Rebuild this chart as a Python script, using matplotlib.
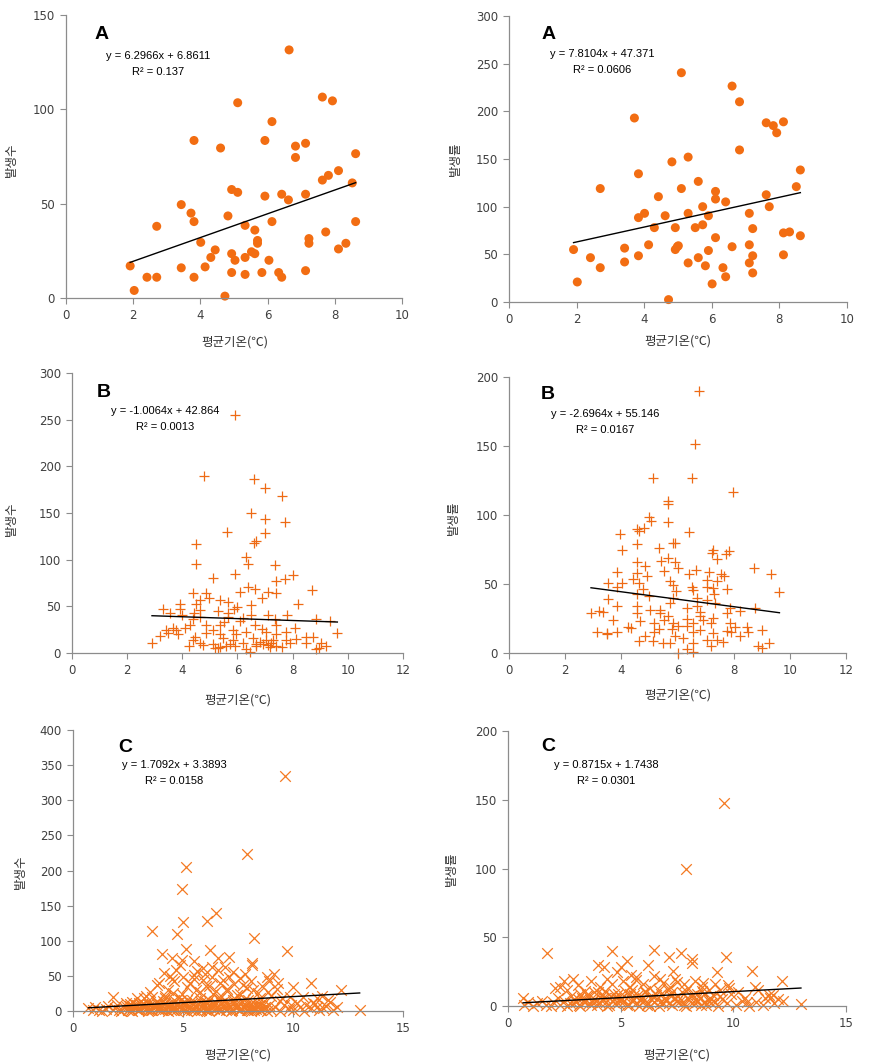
import numpy as np
import matplotlib.pyplot as plt

plt.rcParams['font.family'] = ['DejaVu Sans', 'Noto Sans CJK KR']

# panel A : 발생수 / 발생률 vs 평균기온
a_cnt = [(1.91, 17), (2.03, 4), (2.41, 11), (2.70, 11), (2.70, 38), (3.43, 49.5), (3.43, 16),
         (3.72, 45), (3.81, 83.5), (3.81, 40.5), (3.81, 11), (4.01, 29.5), (4.14, 16.5),
         (4.31, 21.5), (4.44, 25.5), (4.60, 79.5), (4.73, 1), (4.82, 43.5), (4.93, 57.5),
         (4.93, 23.5), (4.93, 13.5), (5.03, 20), (5.11, 56), (5.11, 103.5), (5.33, 38.5),
         (5.33, 21.5), (5.33, 12.5), (5.52, 24.5), (5.62, 23.5), (5.62, 36), (5.70, 30.5),
         (5.70, 29), (5.83, 13.5), (5.92, 54), (5.92, 83.5), (6.04, 20), (6.13, 93.5),
         (6.13, 40.5), (6.33, 13.5), (6.42, 55), (6.42, 11), (6.62, 52), (6.64, 131.5),
         (6.83, 80.5), (6.83, 74.5), (7.13, 55), (7.13, 14.5), (7.13, 82), (7.23, 31.5),
         (7.23, 29), (7.63, 106.5), (7.63, 62.5), (7.73, 35), (7.81, 65), (7.93, 104.5),
         (8.11, 67.5), (8.11, 26), (8.33, 29), (8.52, 61), (8.62, 76.5), (8.62, 40.5)]
a_rate = [(1.91, 55), (2.02, 21), (2.41, 46.5), (2.70, 36), (2.70, 119), (3.42, 56.5),
          (3.42, 42), (3.71, 193), (3.83, 48.5), (3.83, 134.5), (3.83, 88.5), (4.01, 93),
          (4.13, 60), (4.30, 78), (4.42, 110.5), (4.62, 90.5), (4.72, 2.5), (4.82, 147),
          (4.92, 78), (4.92, 55), (4.98, 58), (5.01, 59), (5.10, 240.5), (5.10, 119),
          (5.30, 152), (5.30, 93), (5.30, 41), (5.51, 78), (5.60, 126.5), (5.60, 46.5),
          (5.73, 100), (5.73, 81), (5.81, 38), (5.90, 54), (5.90, 90.5), (6.01, 19),
          (6.11, 116), (6.11, 108), (6.11, 67.5), (6.33, 36), (6.41, 105), (6.41, 26.5),
          (6.60, 226.5), (6.60, 58), (6.82, 210), (6.82, 159.5), (7.11, 93), (7.11, 60),
          (7.11, 41), (7.21, 77), (7.21, 48.5), (7.21, 30.5), (7.61, 188), (7.61, 112.5),
          (7.70, 100), (7.82, 185), (7.92, 177.5), (8.12, 189), (8.12, 72.5), (8.12, 49.5),
          (8.30, 73.5), (8.50, 121), (8.62, 138.5), (8.62, 69.5)]

# panel B
b_cnt = [(5.91, 255), (4.79, 190), (6.59, 186), (7.0, 177), (7.63, 168), (6.5, 150),
         (7.0, 144), (7.71, 140), (5.62, 130), (7.0, 129), (6.66, 120), (6.59, 118),
         (4.5, 117), (6.32, 103), (6.38, 95), (4.5, 95), (7.35, 94), (5.91, 85), (8.01, 84),
         (5.12, 80), (7.71, 79), (7.41, 77), (6.37, 71), (6.63, 69), (8.71, 68), (6.08, 65),
         (7.11, 65), (7.41, 64), (4.39, 64), (4.87, 64), (4.97, 59), (6.88, 59), (4.63, 57),
         (5.38, 57), (5.67, 55), (8.19, 53), (3.92, 52), (4.5, 52), (6.5, 51), (5.98, 49),
         (5.87, 47), (3.3, 47), (3.92, 47), (4.63, 46), (5.29, 45), (3.54, 43), (4.43, 43),
         (5.67, 43), (4.0, 41), (6.5, 41), (7.11, 41), (7.79, 41), (5.67, 39), (4.63, 39),
         (8.83, 36), (7.36, 36), (4.39, 36), (6.08, 34), (9.34, 34), (4.27, 30), (4.87, 30),
         (5.35, 30), (6.63, 30), (7.41, 30), (8.07, 27), (3.66, 27), (3.78, 25), (3.42, 25),
         (5.11, 25), (5.84, 25), (6.32, 23), (7.04, 23), (7.77, 22), (9.62, 21), (3.48, 21),
         (3.84, 20), (4.87, 21), (5.35, 20), (5.96, 20), (7.41, 20), (3.18, 18), (4.45, 17),
         (5.47, 16), (6.56, 16), (8.5, 17), (8.74, 17), (8.11, 15), (4.39, 14), (5.84, 14),
         (7.04, 14), (7.77, 14), (2.9, 11), (4.63, 11), (5.11, 10), (5.72, 10), (6.2, 11),
         (6.68, 10), (6.92, 10), (7.23, 11), (7.89, 11), (8.5, 11), (9.04, 11), (4.23, 8),
         (4.75, 9), (5.6, 8), (6.68, 8), (7.41, 8), (9.22, 8), (5.17, 5), (5.29, 5),
         (7.17, 6), (6.32, 4), (8.83, 4), (8.97, 5), (6.44, 1), (5.35, 6), (6.8, 12),
         (7.3, 14), (7.1, 9), (6.9, 26), (5.5, 33), (6.2, 38), (4.1, 27), (5.9, 8), (7.6, 6)]
b_rate = [(6.77, 189.5), (6.64, 151.5), (5.14, 127), (6.52, 126.5), (7.99, 116.5),
          (5.65, 110.5), (5.65, 108), (4.99, 98.5), (5.04, 96), (5.65, 95), (4.55, 90),
          (4.63, 88.5), (4.82, 90.5), (6.42, 88), (3.95, 86), (5.83, 79.5), (5.92, 80),
          (4.55, 79), (5.34, 76), (4.02, 75), (7.28, 75), (7.82, 74), (7.22, 72.5),
          (7.73, 71.5), (7.42, 68), (5.66, 68.5), (5.41, 66.5), (5.92, 66), (4.55, 66),
          (4.83, 63), (6.0, 61.5), (8.72, 61.5), (6.66, 60.5), (5.52, 59.5), (3.83, 58.5),
          (7.13, 58.5), (4.55, 58), (6.42, 57), (7.56, 57), (7.66, 56), (9.33, 57),
          (4.92, 55.5), (4.40, 53.5), (5.74, 52.5), (7.04, 53), (7.40, 52.5), (3.54, 50.5),
          (4.01, 50.5), (4.62, 50.5), (5.85, 49.5), (6.50, 48), (7.04, 48), (7.28, 47),
          (4.78, 46.5), (3.83, 48), (7.75, 46.5), (6.56, 45.5), (5.95, 45), (9.63, 44),
          (7.30, 42.5), (4.55, 42.5), (5.0, 41), (5.85, 40), (6.69, 40), (3.54, 39),
          (7.04, 38.5), (7.35, 36.5), (5.74, 36.5), (6.69, 34), (3.83, 34), (4.55, 34),
          (5.02, 31.5), (5.38, 31.5), (6.33, 32.5), (7.87, 32.5), (8.76, 32.5), (8.23, 30.5),
          (3.22, 30.5), (3.34, 30), (2.92, 29), (4.55, 29), (5.38, 29), (6.8, 30), (7.75, 29),
          (5.65, 26.5), (6.8, 26.5), (7.28, 25.5), (3.71, 24), (4.66, 23.5), (5.52, 24),
          (6.33, 24.5), (6.92, 24), (5.85, 21.5), (6.56, 21.5), (7.18, 21.5), (7.87, 21.5),
          (5.18, 21.5), (6.03, 19.5), (6.33, 19.5), (4.23, 19), (4.35, 18), (8.05, 19),
          (8.46, 19), (5.33, 17.5), (5.80, 17.5), (6.80, 17), (7.75, 16), (7.89, 15.5),
          (9.01, 17), (8.52, 15.5), (3.83, 15.5), (3.12, 15), (3.48, 14.5), (5.18, 15),
          (6.56, 15), (7.28, 14.5), (3.48, 13.5), (4.83, 12.5), (5.92, 12.5), (8.23, 12.5),
          (6.21, 11), (7.04, 9.5), (7.4, 9.5), (4.64, 8.5), (5.14, 8.5), (5.5, 7.5),
          (5.73, 7), (6.56, 7.5), (7.63, 8), (9.27, 7), (6.33, 3), (6.56, 1), (7.18, 5),
          (8.88, 5), (9.0, 3.5), (6.03, 0)]

# panel C
c_cnt = [(9.63, 334.5), (7.91, 223), (5.13, 205.5), (4.94, 173), (5.0, 126), (6.11, 127.5),
         (6.52, 139), (3.61, 113.5), (4.75, 109), (8.22, 103.5), (9.72, 85), (5.13, 88),
         (6.23, 87), (4.04, 81), (7.09, 76.5), (6.61, 76), (4.49, 75), (4.94, 72.5),
         (5.49, 71.5), (8.12, 68), (8.12, 65.5), (4.87, 65.5), (5.93, 60.5), (5.63, 57.5),
         (7.29, 56), (4.14, 54.5), (9.15, 52.5), (5.52, 51), (8.80, 49), (6.31, 48),
         (7.59, 46.5), (4.49, 45), (10.84, 39.5), (6.68, 39.5), (7.74, 37), (3.84, 37),
         (6.03, 35.5), (10.01, 33.5), (5.17, 33.5), (9.26, 31), (8.20, 30), (12.2, 30),
         (6.99, 29), (3.5, 27.5), (5.78, 27.5), (8.88, 27.5), (4.56, 25), (4.94, 24),
         (6.38, 24), (7.47, 23), (1.84, 20.5), (10.46, 20.5), (9.86, 19.5), (8.5, 19),
         (3.24, 18), (4.19, 18), (5.78, 18), (6.68, 18), (11.07, 18), (5.17, 15.5),
         (7.29, 15.5), (7.97, 15.5), (9.41, 14), (11.67, 13.5), (2.68, 13.5), (3.81, 13.5),
         (4.72, 12), (6.08, 12), (6.99, 12), (13.03, 1.5), (11.37, 4),
         (3.9, 40), (4.3, 30), (4.6, 42), (4.2, 22), (5.3, 40), (5.6, 30), (5.9, 44),
         (6.2, 36), (6.5, 28), (6.8, 44), (7.0, 32), (7.3, 38), (7.6, 24), (7.9, 33),
         (8.1, 42), (8.4, 26), (8.6, 36), (9.0, 22), (9.3, 40), (9.5, 18), (10.2, 12),
         (10.6, 8), (11.3, 22), (11.6, 16), (3.6, 20), (3.3, 22), (2.9, 18), (4.8, 20),
         (5.0, 48), (6.0, 52), (6.6, 58), (7.1, 48), (5.5, 45), (4.4, 50), (4.7, 58),
         (6.3, 62), (6.9, 62), (7.8, 52), (8.9, 42), (9.9, 8), (10.9, 12), (11.1, 6),
         (0.7, 4), (0.9, 1), (1.0, 6), (1.2, 2), (1.3, 0), (1.5, 3), (1.6, 7), (1.8, 1),
         (1.9, 4), (2.0, 9), (2.1, 2), (2.2, 0), (2.3, 5), (2.4, 11), (2.5, 2), (2.6, 7),
         (2.7, 0), (2.8, 4), (2.9, 9), (3.0, 1), (3.1, 6), (3.2, 12), (3.3, 3), (3.4, 0),
         (3.5, 8), (3.6, 2), (3.7, 5), (3.8, 10), (3.9, 1), (4.0, 6), (4.1, 14), (4.2, 3),
         (4.3, 0), (4.4, 8), (4.5, 4), (4.6, 11), (4.7, 1), (4.8, 6), (4.9, 15), (5.0, 3),
         (5.1, 9), (5.2, 0), (5.3, 5), (5.4, 12), (5.5, 2), (5.6, 7), (5.7, 10), (5.8, 1),
         (5.9, 4), (6.0, 14), (6.1, 6), (6.2, 0), (6.3, 9), (6.4, 3), (6.5, 12), (6.6, 5),
         (6.7, 1), (6.8, 8), (6.9, 15), (7.0, 3), (7.1, 6), (7.2, 0), (7.3, 11), (7.4, 4),
         (7.5, 8), (7.6, 1), (7.7, 13), (7.8, 5), (7.9, 2), (8.0, 9), (8.1, 0), (8.2, 6),
         (8.3, 3), (8.4, 11), (8.5, 1), (8.6, 7), (8.7, 4), (8.8, 0), (8.9, 9), (9.0, 2),
         (9.2, 5), (9.4, 0), (9.6, 8), (9.8, 3), (10.0, 1), (10.3, 6), (10.5, 0), (10.8, 4),
         (11.0, 10), (11.2, 2), (11.5, 7), (11.8, 1), (12.0, 5),
         (2.45, 5), (2.65, 1), (2.85, 8), (3.05, 3), (3.25, 6), (3.45, 1), (3.65, 9),
         (3.85, 4), (4.05, 2), (4.25, 7), (4.45, 1), (4.65, 5), (4.85, 9), (5.05, 1),
         (5.25, 6), (5.45, 3), (5.65, 0), (5.85, 8), (6.05, 2), (6.25, 5), (6.45, 9),
         (6.65, 2), (6.85, 4), (7.05, 8), (7.25, 2), (7.45, 6), (7.65, 3), (7.85, 9),
         (8.05, 4), (8.25, 1), (8.45, 7),
         (2.55, 3), (2.75, 6), (2.95, 2), (3.15, 9), (3.35, 4), (3.55, 1), (3.75, 7),
         (3.95, 3), (4.15, 10), (4.35, 5), (4.55, 2), (4.75, 8), (4.95, 4), (5.15, 12),
         (5.35, 2), (5.55, 6), (5.75, 3), (5.95, 10), (6.15, 1), (6.35, 7), (6.55, 4),
         (6.75, 11), (6.95, 2), (7.15, 5), (7.35, 8), (7.55, 2), (7.75, 6), (7.95, 1),
         (8.15, 4), (8.35, 7), (8.55, 2), (8.75, 5),
         (2.6, 10), (3.0, 12), (3.4, 10), (3.8, 14), (4.2, 12), (4.6, 16), (5.0, 10),
         (5.4, 16), (5.8, 13), (6.2, 15), (6.6, 18), (7.0, 12), (7.4, 15), (7.8, 17),
         (8.2, 13), (8.6, 11)]
c_rate = [(9.60, 147.5), (7.89, 99.5), (1.75, 38.5), (4.63, 40), (6.49, 41), (7.66, 38.5),
          (9.67, 36), (7.15, 36), (8.15, 34.5), (8.17, 31), (5.30, 32.5), (6.22, 30),
          (4.0, 30), (4.25, 28.5), (5.0, 28.5), (4.82, 25), (10.82, 25.5), (9.26, 25),
          (12.16, 18), (5.48, 22.5), (7.33, 25.5), (2.89, 20), (2.47, 18.5), (5.70, 19),
          (6.74, 19.5), (7.48, 17.5), (8.66, 16.5), (9.77, 15.5), (10.96, 14), (2.09, 13),
          (0.67, 6), (13.0, 1.5), (11.33, 0.5), (10.59, 3), (11.63, 5.5), (11.77, 8),
          (0.7, 1), (0.9, 3), (1.1, 0), (1.3, 2), (1.5, 4), (1.7, 1), (1.9, 0), (2.0, 3),
          (2.2, 6), (2.3, 1), (2.5, 4), (2.6, 0), (2.8, 7), (2.9, 2), (3.1, 5), (3.2, 0),
          (3.4, 3), (3.5, 8), (3.7, 1), (3.8, 5), (4.0, 10), (4.1, 2), (4.3, 6), (4.4, 0),
          (4.6, 4), (4.7, 9), (4.9, 2), (5.0, 6), (5.2, 11), (5.3, 1), (5.5, 4), (5.6, 8),
          (5.8, 0), (5.9, 5), (6.1, 10), (6.2, 2), (6.4, 7), (6.5, 3), (6.7, 0), (6.8, 9),
          (7.0, 4), (7.1, 12), (7.3, 1), (7.4, 6), (7.6, 3), (7.7, 10), (7.9, 0), (8.0, 5),
          (8.2, 8), (8.3, 2), (8.5, 6), (8.6, 11), (8.8, 1), (8.9, 4), (9.1, 8), (9.3, 0),
          (9.5, 5), (9.7, 2), (9.9, 9), (10.1, 1), (10.4, 4), (10.7, 0), (11.0, 3),
          (11.4, 6), (11.8, 2), (12.2, 4),
          (3.0, 3), (3.3, 6), (3.6, 2), (3.9, 4), (4.2, 8), (4.5, 1), (4.8, 6), (5.1, 3),
          (5.4, 9), (5.7, 2), (6.0, 6), (6.3, 0), (6.6, 5), (6.9, 2), (7.2, 8), (7.5, 4),
          (7.8, 1), (8.1, 7), (8.4, 3), (8.7, 9), (9.0, 2),
          (2.75, 2), (2.95, 5), (3.15, 1), (3.35, 4), (3.55, 7), (3.75, 3), (3.95, 1),
          (4.15, 5), (4.35, 3), (4.55, 7), (4.75, 2), (4.95, 4), (5.15, 7), (5.35, 1),
          (5.55, 5), (5.75, 8), (5.95, 3), (6.15, 1), (6.35, 5), (6.55, 8), (6.75, 3),
          (6.95, 6), (7.15, 2), (7.35, 5), (7.55, 7), (7.75, 3), (7.95, 6), (8.15, 2),
          (8.35, 5), (8.55, 1), (8.75, 3), (8.95, 6), (9.2, 3), (9.4, 7),
          (3.2, 9), (3.8, 10), (4.3, 11), (4.9, 9), (5.5, 12), (6.1, 11), (6.7, 12),
          (7.3, 10), (7.9, 11), (8.4, 9),
          (2.3, 14), (2.6, 12), (3.1, 15), (3.4, 11), (3.7, 18), (4.1, 14), (4.4, 20),
          (4.6, 16), (5.1, 18), (5.4, 14), (5.7, 21), (6.0, 16), (6.3, 13), (6.5, 22),
          (6.9, 17), (7.2, 14), (7.4, 20), (7.8, 16), (8.0, 13), (8.3, 18), (8.6, 14),
          (8.9, 12), (9.2, 16), (9.4, 12), (9.8, 13), (10.2, 10), (10.5, 6), (11.1, 12),
          (11.6, 8), (12.0, 5)]

fits = {
    'a_cnt': (6.2966, 6.8611, '0.137'), 'a_rate': (7.8104, 47.371, '0.0606'),
    'b_cnt': (-1.0064, 42.864, '0.0013'), 'b_rate': (-2.6964, 55.146, '0.0167'),
    'c_cnt': (1.7092, 3.3893, '0.0158'), 'c_rate': (0.8715, 1.7438, '0.0301'),
}

W, H = 879, 1063
fig = plt.figure(figsize=(W / 100, H / 100), dpi=100)

def px_axes(x0, y0, x1, y1):
    return fig.add_axes([x0 / W, 1 - y1 / H, (x1 - x0) / W, (y1 - y0) / H])

panels = [
    # key, data, letter, ylabel, box px, xmax, xstep, ymax, ystep, marker, label positions
    ('a_cnt', a_cnt, 'A', '발생수', (66, 15, 402, 298), 10, 2, 150, 50, 'o',
     (0.107, 0.93), (0.274, 0.855, 0.80), (-0.143, 0.49), (0.503, -0.131)),
    ('a_rate', a_rate, 'A', '발생률', (509, 16, 847, 302), 10, 2, 300, 50, 'o',
     (0.118, 0.937), (0.275, 0.866, 0.811), (-0.139, 0.50), (0.50, -0.115)),
    ('b_cnt', b_cnt, 'B', '발생수', (72, 373, 403, 653), 12, 2, 300, 50, '+',
     (0.097, 0.929), (0.281, 0.864, 0.807), (-0.163, 0.48), (0.50, -0.143)),
    ('b_rate', b_rate, 'B', '발생률', (509, 377, 846, 653), 12, 2, 200, 50, '+',
     (0.116, 0.938), (0.285, 0.866, 0.808), (-0.145, 0.49), (0.50, -0.13)),
    ('c_cnt', c_cnt, 'C', '발생수', (73, 730, 403, 1011), 15, 5, 400, 50, 'x',
     (0.158, 0.936), (0.306, 0.875, 0.819), (-0.14, 0.495), (0.50, -0.135)),
    ('c_rate', c_rate, 'C', '발생률', (508, 731, 846, 1006), 15, 5, 200, 50, 'x',
     (0.118, 0.942), (0.29, 0.876, 0.818), (-0.148, 0.50), (0.50, -0.153)),
]

for key, pts, letter, ylab, box, xmax, xstep, ymax, ystep, mk, lpos, epos, ylpos, xlpos in panels:
    ax = px_axes(*box)
    x = np.array([p[0] for p in pts])
    y = np.array([p[1] for p in pts])
    if mk == 'o':
        ax.scatter(x, y, s=42, color='#F26D12', edgecolors='none', clip_on=False, zorder=2)
    elif mk == '+':
        ax.scatter(x, y, s=62, marker='+', color='#EE6A14', linewidths=0.9, clip_on=False, zorder=2)
    else:
        ax.scatter(x, y, s=58, marker='x', color='#F47A22', linewidths=0.9, clip_on=False, zorder=2)

    m, b, r2 = fits[key]
    xl = np.array([x.min(), x.max()])
    ax.plot(xl, m * xl + b, color='black', lw=1, zorder=3)

    ax.set_xlim(0, xmax)
    ax.set_ylim(0, ymax)
    ax.set_xticks(np.arange(0, xmax + 0.1, xstep))
    ax.set_yticks(np.arange(0, ymax + 0.1, ystep))
    for s in ['top', 'right']:
        ax.spines[s].set_visible(False)
    for s in ['left', 'bottom']:
        ax.spines[s].set_color('#8c8c8c')
        ax.spines[s].set_linewidth(0.9)
    ax.tick_params(direction='out', length=4, width=0.8, color='#8c8c8c',
                   labelsize=8.5, labelcolor='#404040', pad=4)

    ax.text(lpos[0], lpos[1], letter, transform=ax.transAxes, fontsize=14,
            fontweight='bold', ha='center', va='center', family=['Liberation Sans'])
    sign = '-' if m < 0 else ''
    eq = f'y = {sign}{abs(m):g}x + {b:g}'
    ax.text(epos[0], epos[1], eq, transform=ax.transAxes, fontsize=8,
            ha='center', va='center', family=['Liberation Sans'])
    ax.text(epos[0], epos[2], f'R² = {r2}', transform=ax.transAxes, fontsize=8,
            ha='center', va='center', family=['Liberation Sans'])

    ax.set_ylabel(ylab, fontsize=9, color='#333333', family=['Noto Sans CJK KR'])
    ax.yaxis.set_label_coords(*ylpos)
    ax.set_xlabel('평균기온(℃)', fontsize=9, color='#333333',
                  family=['Noto Sans CJK KR', 'DejaVu Sans'])
    ax.xaxis.set_label_coords(*xlpos)

fig.savefig('out.png', dpi=100)
